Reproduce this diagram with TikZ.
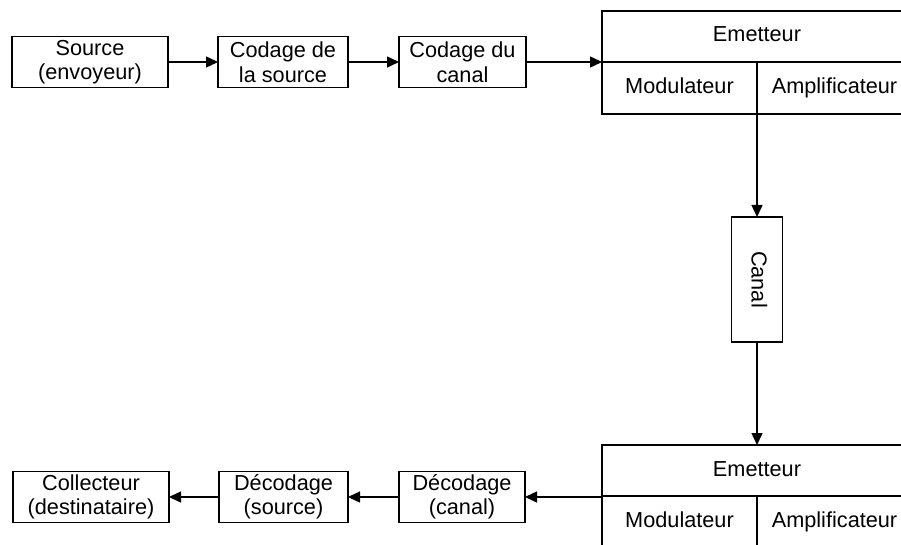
\documentclass[tikz,border=0pt]{standalone}
\usepackage{fontspec}
\setmainfont{Liberation Sans}
\usetikzlibrary{positioning,arrows.meta,calc}

\begin{document}
\begin{tikzpicture}[
    x=1pt, y=-1pt,
    node distance=50pt,
    blocbox/.style={
      draw=black,
      line width=1.4pt,
      minimum height=51pt,
      inner sep=0pt,
      outer sep=0pt,
      align=center,
      font=\fontsize{21.7}{24.5}\selectfont
    },
    linebox/.style={
      blocbox,
      text height=15.6pt,
      text depth=4.6pt
    },
    flowarrow/.style={
      -{Triangle[length=12pt,width=11pt]},
      line width=1.4pt
    }
  ]
  \useasboundingbox (0,0) rectangle (901,545);
  \clip (0,0) rectangle (901,545);

  % ligne du haut
  \node[blocbox, minimum width=156pt, anchor=west] (source) at (12,62) {Source\\(envoyeur)};
  \node[blocbox, minimum width=130pt, right=of source] (codsrc) {Codage de\\la source};
  \node[blocbox, minimum width=127pt, right=51pt of codsrc] (codcan) {Codage du\\canal};

  % emetteur (haut)
  \node[linebox, minimum width=310pt, anchor=north west] (emetA) at (602,11) {Emetteur};
  \node[linebox, minimum width=155pt, minimum height=52pt, anchor=north west] (modulA) at (emetA.south west) {Modulateur};
  \node[linebox, minimum width=155pt, minimum height=52pt, anchor=north west] (ampliA) at (modulA.north east) {Amplificateur};

  % canal
  \node[linebox, minimum width=125pt, rotate=-90] (canal) at (757,279.5) {Canal};

  % emetteur (bas)
  \node[linebox, minimum width=310pt, anchor=north west] (emetB) at (602,445) {Emetteur};
  \node[linebox, minimum width=155pt, minimum height=52pt, anchor=north west] (modulB) at (emetB.south west) {Modulateur};
  \node[linebox, minimum width=155pt, minimum height=52pt, anchor=north west] (ampliB) at (modulB.north east) {Amplificateur};

  % ligne du bas
  \node[blocbox, minimum width=126pt, anchor=east] (deccan) at (525,497) {Décodage\\(canal)};
  \node[blocbox, minimum width=129pt, left=51pt of deccan] (decsrc) {Décodage\\(source)};
  \node[blocbox, minimum width=156pt, left=of decsrc] (collect) {Collecteur\\(destinataire)};

  % chaine de transmission
  \draw[flowarrow] (source) -- (codsrc);
  \draw[flowarrow] (codsrc) -- (codcan);
  \draw[flowarrow] (codcan.east) -- (codcan.east -| modulA.west);
  \draw[flowarrow] (modulA.south east) -- (canal);
  \draw[flowarrow] (canal) -- (emetB.north);
  \draw[flowarrow] (deccan.east -| modulB.west) -- (deccan.east);
  \draw[flowarrow] (deccan) -- (decsrc);
  \draw[flowarrow] (decsrc) -- (collect);

\end{tikzpicture}
\end{document}
